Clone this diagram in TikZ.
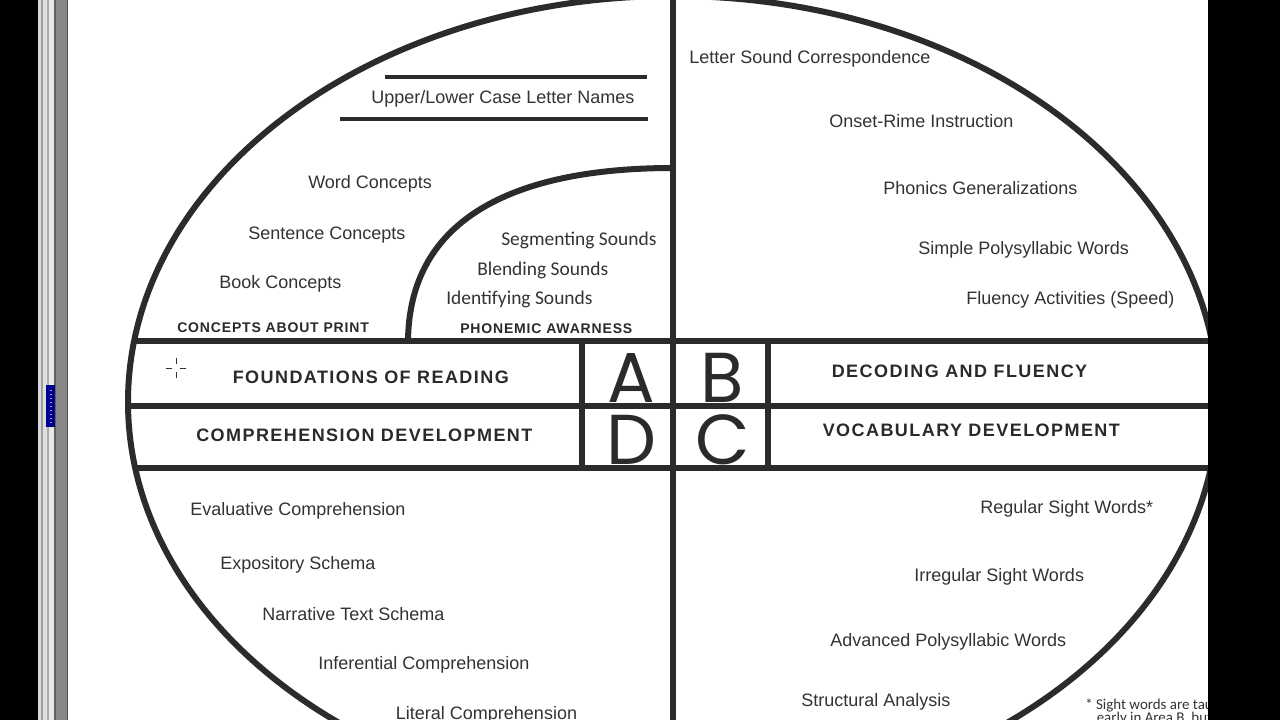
\documentclass[tikz,border=0pt]{standalone}
\usepackage{fontspec}
\setmainfont{Liberation Sans}
\newfontfamily\capfont[LetterSpace=8]{Liberation Sans}
\newfontfamily\smallcapfont[LetterSpace=6]{Liberation Sans}
\newfontfamily\sndfont{Carlito}
\newfontfamily\bigfont{Poppins}
\definecolor{txtgray}{HTML}{333333}
\definecolor{capgray}{HTML}{2A2A2A}
\definecolor{linegray}{HTML}{2B2B2B}
\tikzset{
  txt/.style={text=txtgray, font=\fontsize{13.5}{16}\selectfont, inner sep=0pt, anchor=base west},
  captxt/.style={text=capgray, font=\capfont\bfseries\fontsize{13.5}{16}\selectfont, inner sep=0pt, anchor=base west},
  smallcaptxt/.style={text=capgray, font=\smallcapfont\bfseries\fontsize{10.5}{12}\selectfont, inner sep=0pt, anchor=base west},
  sndtxt/.style={text=txtgray, font=\sndfont\fontsize{14.6}{17}\selectfont, inner sep=0pt, anchor=base west},
  notetxt/.style={text=txtgray, font=\sndfont\fontsize{11.2}{13}\selectfont, inner sep=0pt, anchor=base west},
  bigletter/.style={text=capgray, font=\bigfont\fontsize{53}{60}\selectfont, inner sep=0pt, anchor=base, text height=38pt, text depth=0pt},
  heavy/.style={draw=linegray, line width=4.5pt},
  medium/.style={draw=linegray, line width=3pt},
}
\begin{document}
\begin{tikzpicture}[x=0.75pt,y=-0.75pt]
\useasboundingbox (0,0) rectangle (1280,720);
\clip (0,0) rectangle (1280,720);
\fill[white] (0,0) rectangle (1280,720);

% ellipse and inner lines
\begin{scope}
  \clip (673,402) ellipse [x radius=545, y radius=406];
  \draw[heavy] (100,341) -- (1260,341);
  \draw[heavy] (100,406) -- (1260,406);
  \draw[heavy] (100,468) -- (1260,468);
  \draw[heavy] (673,-20) -- (673,740);
\end{scope}
\draw[heavy] (582,341) -- (582,468);
\draw[heavy] (768,341) -- (768,468);
\draw[heavy] (673,402) ellipse [x radius=545, y radius=406];
\draw[heavy] (408,343) .. controls (408,215) and (520,168) .. (673,168);
\draw[medium] (385,77) -- (647,77);
\draw[medium] (340,119) -- (648,119);

% big letters
\node[bigletter] (lA) at (631,402) {A};
\node[bigletter] (lB) at (722,402) {B};
\node[bigletter] (lD) at (631,464) {D};
\node[bigletter] (lC) at (723,464) {C};

% band labels
\node[captxt] (found) at (232.5,383) {FOUNDATIONS OF READING};
\node[captxt] (compdev) at (196,441.5) {COMPREHENSION DEVELOPMENT};
\node[captxt] (decode) at (831.5,377.3) {DECODING AND FLUENCY};
\node[captxt] (vocab) at (822.5,436.7) {VOCABULARY DEVELOPMENT};
\node[smallcaptxt] (cap) at (177,332.5) {CONCEPTS ABOUT PRINT};
\node[smallcaptxt] (phon) at (460,333) {PHONEMIC AWARNESS};

% upper left
\node[txt] (ulc) at (371,103.3) {Upper/Lower Case Letter Names};
\node[txt] (word) at (308,189) {Word Concepts};
\node[txt] (sent) at (248,239) {Sentence Concepts};
\node[txt] (book) at (219,288.8) {Book Concepts};
\node[sndtxt] (seg) at (501,245) {Segmenting Sounds};
\node[sndtxt] (blend) at (477,275) {Blending Sounds};
\node[sndtxt] (ident) at (446,304) {Identifying Sounds};

% upper right
\node[txt] (lsc) at (689,63.5) {Letter Sound Correspondence};
\node[txt] (onset) at (829,127.5) {Onset-Rime Instruction};
\node[txt] (phonics) at (883,194.5) {Phonics Generalizations};
\node[txt] (simple) at (918,254.5) {Simple Polysyllabic Words};
\node[txt] (fluency) at (966,304) {Fluency Activities (Speed)};

% lower left
\node[txt] (eval) at (190,515.5) {Evaluative Comprehension};
\node[txt] (expo) at (220,569.5) {Expository Schema};
\node[txt] (narr) at (262,620.7) {Narrative Text Schema};
\node[txt] (infer) at (318,669) {Inferential Comprehension};
\node[txt] (lit) at (395.7,719.5) {Literal Comprehension};

% lower right
\node[txt] (reg) at (980,513) {Regular Sight Words*};
\node[txt] (irreg) at (914,581.5) {Irregular Sight Words};
\node[txt] (adv) at (830,646) {Advanced Polysyllabic Words};
\node[txt] (struct) at (801,706) {Structural Analysis};
\node[notetxt] (note1) at (1085,709) {* Sight words are taught};
\node[notetxt] (note2) at (1096.5,722) {early in Area B, but};

% cursor crosshair
\draw[black!80, line width=0.7pt] (176,358) -- (176,364) (176,372) -- (176,378)
  (166,368) -- (172,368) (180,368) -- (186,368);

% window frame
\fill[black] (0,0) rectangle (38,720);
\fill[black!15] (38,0) rectangle (41,720);
\fill[black!38] (41,0) rectangle (43,720);
\fill[black!13] (43,0) rectangle (47,720);
\fill[black!33] (47,0) rectangle (49,720);
\fill[black!9] (49,0) rectangle (54,720);
\fill[black!62] (54,0) rectangle (56,720);
\fill[black!47] (56,0) rectangle (67,720);
\fill[black!70] (67,0) rectangle (68,720);
\fill[blue!55!black] (46,385) rectangle (55,427);
\foreach \yy in {390,394,...,422} {\fill[blue!40!white] (49.5,\yy) rectangle (51.5,\yy+1.2);}
\fill[black] (1208,0) rectangle (1280,720);
\end{tikzpicture}
\end{document}
